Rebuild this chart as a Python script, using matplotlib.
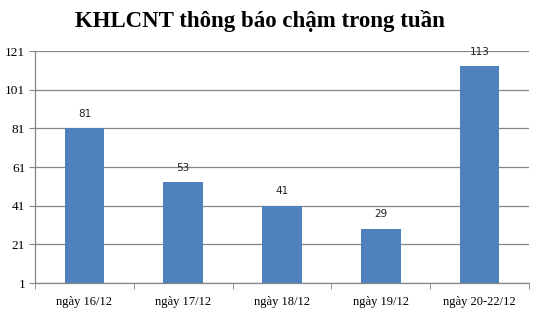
import matplotlib
matplotlib.use("Agg")
import matplotlib.pyplot as plt
import numpy as np

categories = ["ngày 16/12", "ngày 17/12", "ngày 18/12", "ngày 19/12", "ngày 20-22/12"]
values = [81, 53, 41, 29, 113]
yticks = [1, 21, 41, 61, 81, 101, 121]
title = "KHLCNT thông báo chậm trong tuần"

fig = plt.figure(figsize=(5.41, 3.12), dpi=100)
ax = fig.add_axes([35/541, 1-283/312, (529-35)/541, (283-51)/312])

x = np.arange(len(categories))
base = 1
ax.bar(x, [v - base for v in values], bottom=base, width=0.4, color="#4F81BD", zorder=3)
for xi, v in zip(x, values):
    ax.annotate(str(v), (xi, v), xytext=(0, 7), textcoords="offset points",
                ha="center", va="bottom", fontsize=7.5, family="DejaVu Sans", color="#222222")

ax.set_xlim(-0.5, len(categories) - 0.5)
ax.set_ylim(1, 121)
ax.set_yticks(yticks)
ax.set_yticklabels([str(t) for t in yticks], family="Liberation Serif", fontsize=9.5)
ax.set_xticks(x)
ax.set_xticklabels(categories, family="Liberation Serif", fontsize=9)
ax.set_xticks(np.arange(-0.5, len(categories), 1), minor=True)
ax.tick_params(axis="x", which="major", length=0, pad=9)
ax.tick_params(axis="x", which="minor", length=4, color="#868686", direction="out")
ax.tick_params(axis="y", length=4, color="#868686", direction="out", pad=3)
ax.yaxis.grid(True, color="#868686", linewidth=0.9, zorder=0)
for s in ["top", "right"]:
    ax.spines[s].set_visible(False)
for s in ["left", "bottom"]:
    ax.spines[s].set_color("#868686")
    ax.spines[s].set_linewidth(0.9)

fig.text(260/541, 1-21/312, title, ha="center", va="center", family="Liberation Serif",
         fontweight="bold", fontsize=16.5)

fig.savefig("out.png", dpi=100)
